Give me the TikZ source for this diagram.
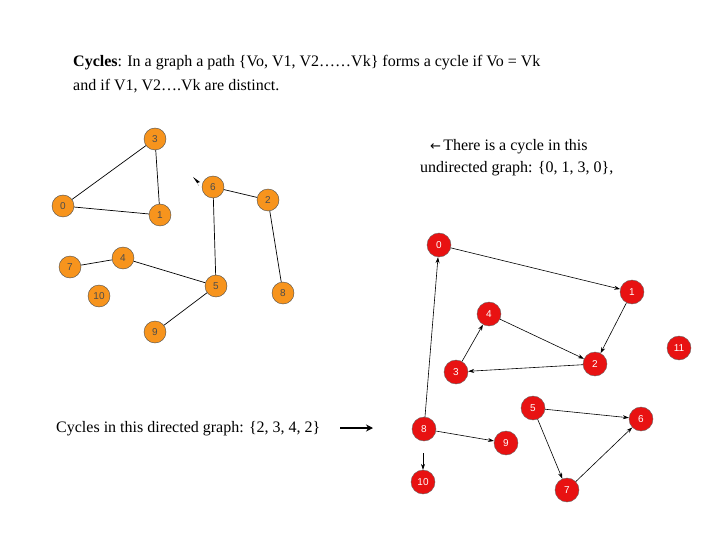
\documentclass[tikz,border=0pt]{standalone}
\usepackage{fontspec}
\setmainfont{Liberation Serif}
\setsansfont{Liberation Sans}
\usetikzlibrary{arrows.meta}
\definecolor{org}{RGB}{247,148,29}
\definecolor{rd}{RGB}{232,18,18}
\begin{document}
\begin{tikzpicture}[x=1pt,y=-1pt,
  onode/.style={circle,draw=black!70,fill=org,minimum size=22pt,inner sep=0pt,font=\sffamily\fontsize{10}{10}\selectfont,text=black!70},
  rnode/.style={circle,draw=black!60,fill=rd,minimum size=24pt,inner sep=0pt,font=\sffamily\fontsize{10}{10}\selectfont,text=white},
  ed/.style={black,line width=0.7pt},
  de/.style={black,line width=0.6pt,-{Stealth[length=6pt,width=4pt]}},
  txt/.style={font=\fontsize{16}{19}\selectfont,anchor=west,inner sep=0pt}]
\useasboundingbox (0,0) rectangle (720,540);
\node[txt] (t1) at (73,63) {\textbf{Cycles}: In a graph a path \{Vo, V1, V2……Vk\} forms a cycle if Vo = Vk};
\node[txt] (t2) at (73,86) {and if V1, V2….Vk are distinct.};
% left graph
\node[onode] (l3) at (155,139) {3};
\node[onode] (l0) at (63,206) {0};
\node[onode] (l1) at (160,215) {1};
\node[onode] (l6) at (213,187) {6};
\node[onode] (l2) at (268,200) {2};
\node[onode] (l7) at (70,267) {7};
\node[onode] (l4) at (123,258) {4};
\node[onode] (l5) at (216,286) {5};
\node[onode] (l10) at (99,296) {10};
\node[onode] (l8) at (283,293) {8};
\node[onode] (l9) at (155,332) {9};
\draw[ed] (l3)--(l0) (l3)--(l1) (l0)--(l1) (l6)--(l2) (l6)--(l5) (l2)--(l8) (l7)--(l4) (l4)--(l5) (l5)--(l9);
\fill (193,177) -- (199,186) -- (197,183) -- (200,182) -- cycle;
% texts right
\node[txt] (t3) at (430,147) {\fontspec{DejaVu Sans}\fontsize{13}{13}\selectfont ←\,\fontspec{Liberation Serif}\fontsize{16}{19}\selectfont There is a cycle in this};
\node[txt] (t4) at (420,169) {undirected graph: \{0, 1, 3, 0\},};
\node[txt] (t5) at (56,429) {Cycles in this directed graph: \{2, 3, 4, 2\}};
\coordinate (a1) at (340,428);
\coordinate (a2) at (373,428);
\draw[line width=2pt,-{Stealth[length=7pt,width=7pt]}] (a1)--(a2);
% right graph
\node[rnode] (r0) at (439,245) {0};
\node[rnode] (r1) at (632,292) {1};
\node[rnode] (r4) at (489,314) {4};
\node[rnode] (r3) at (456,372) {3};
\node[rnode] (r2) at (595,364) {2};
\node[rnode] (r11) at (679,348) {11};
\node[rnode] (r5) at (533,408) {5};
\node[rnode] (r6) at (641,419) {6};
\node[rnode] (r8) at (424,429) {8};
\node[rnode] (r9) at (506,443) {9};
\node[rnode] (r10) at (423,482) {10};
\node[rnode] (r7) at (567,490) {7};
\draw[de] (r0)--(r1);
\draw[de] (r1)--(r2);
\draw[de] (r4)--(r2);
\draw[de] (r2)--(r3);
\draw[de] (r3)--(r4);
\draw[de] (r8)--(r0);
\draw[de] (r8)--(r9);
\draw[de] (r5)--(r6);
\draw[de] (r5)--(r7);
\draw[de] (r7)--(r6);
\coordinate (s10) at (423,453);
\draw[de] (s10)--(r10);
\end{tikzpicture}
\end{document}
